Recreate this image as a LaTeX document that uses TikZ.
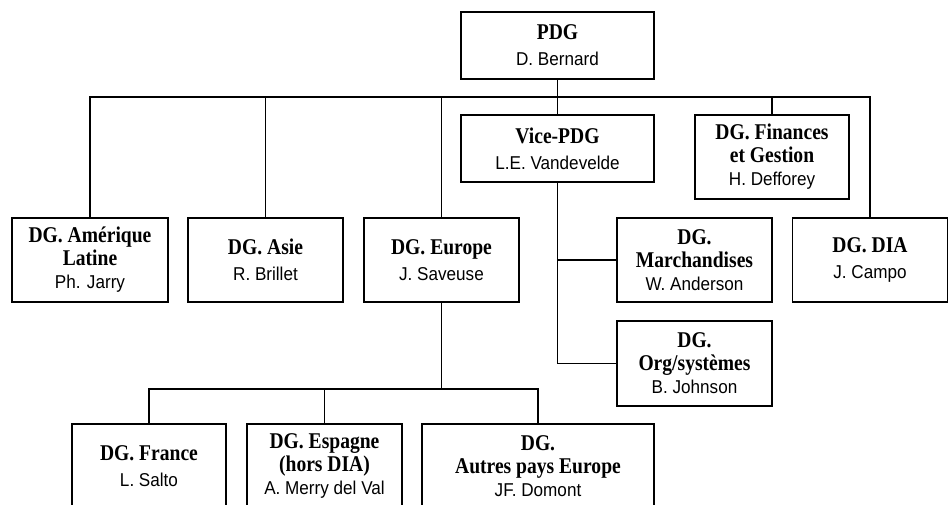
\documentclass[tikz,border=0pt]{standalone}
\usepackage{fontspec}
\setmainfont{Liberation Serif}[BoldFeatures={FakeStretch=0.87}]
\newfontfamily\namefont{Liberation Sans}[FakeStretch=0.92]
\usepackage{tikz}
\newcommand{\who}[1]{{\namefont\mdseries\fontsize{18.6}{23}\selectfont #1}}
\tikzstyle{unit}=[draw, line width=1.3pt, inner sep=0, outer sep=0, align=center,
                  font=\bfseries\fontsize{22.5}{23}\selectfont]
\tikzstyle{orgchart}=[x=1pt, y=-1pt, line width=1.3pt, line join=miter]

\begin{document}
\begin{tikzpicture}[orgchart]
    \useasboundingbox (0, 0) rectangle (949, 504);
    \clip (0, 0) rectangle (949, 504);
    % top level
    \node[unit, minimum width=193, minimum height=67] (PDG)   at (557.5, 45.5) {PDG\\[3pt]\who{D. Bernard}};
    \node[unit, minimum width=193, minimum height=67] (VPDG)  at (557.5, 148.5) {Vice-PDG\\[3pt]\who{L.E. Vandevelde}};
    \node[unit, minimum width=154, minimum height=84] (Fin)   at (772, 157) {DG. Finances\\et Gestion\\\who{H. Defforey}};
    % second row
    \node[unit, minimum width=156, minimum height=84] (AmLat) at (90, 260) {DG. Amérique\\Latine\\\who{Ph. Jarry}};
    \node[unit, minimum width=155, minimum height=84] (Asie)  at (265.5, 260) {DG. Asie\\[2.5pt]\who{R. Brillet}};
    \node[unit, minimum width=155, minimum height=84] (Eur)   at (441.5, 260) {DG. Europe\\[2.5pt]\who{J. Saveuse}};
    \node[unit, minimum width=155, minimum height=84] (March) at (694.5, 260) {DG.\\Marchandises\\\who{W. Anderson}};
    \node[unit, minimum width=155, minimum height=84] (DIA)   at (870, 260) {DG. DIA\\[2.5pt]\who{J. Campo}};
    \node[unit, minimum width=155, minimum height=85] (Org)   at (694.5, 363.5) {DG.\\Org/systèmes\\\who{B. Johnson}};
    % Europe
    \node[unit, minimum width=154, minimum height=84] (Fra)   at (149, 466) {DG. France\\[2.5pt]\who{L. Salto}};
    \node[unit, minimum width=155, minimum height=84] (Esp)   at (324.5, 466) {DG. Espagne\\(hors DIA)\\\who{A. Merry del Val}};
    \node[unit, minimum width=232, minimum height=84] (Autr)  at (538, 466) {DG.\\Autres pays Europe\\\who{JF. Domont}};
    \coordinate (bar)    at (0, 97);
    \coordinate (eurbar) at (0, 389);
    \draw (PDG) -- (VPDG);
    \draw (AmLat.north) -- (AmLat.north |- bar) -- (DIA.north |- bar) -- (DIA.north);
    \draw (Asie.north) -- (Asie.north |- bar);
    \draw (Eur.north) -- (Eur.north |- bar);
    \draw (Fin.north) -- (Fin.north |- bar);
    \draw (VPDG.south) |- (Org.west);
    \draw (March.west) -- (March.west -| VPDG.south);
    \draw (Eur.south) -- (Eur.south |- eurbar);
    \draw (Fra.north) -- (Fra.north |- eurbar) -- (Autr.north |- eurbar) -- (Autr.north);
    \draw (Esp.north) -- (Esp.north |- eurbar);
\end{tikzpicture}
\end{document}
